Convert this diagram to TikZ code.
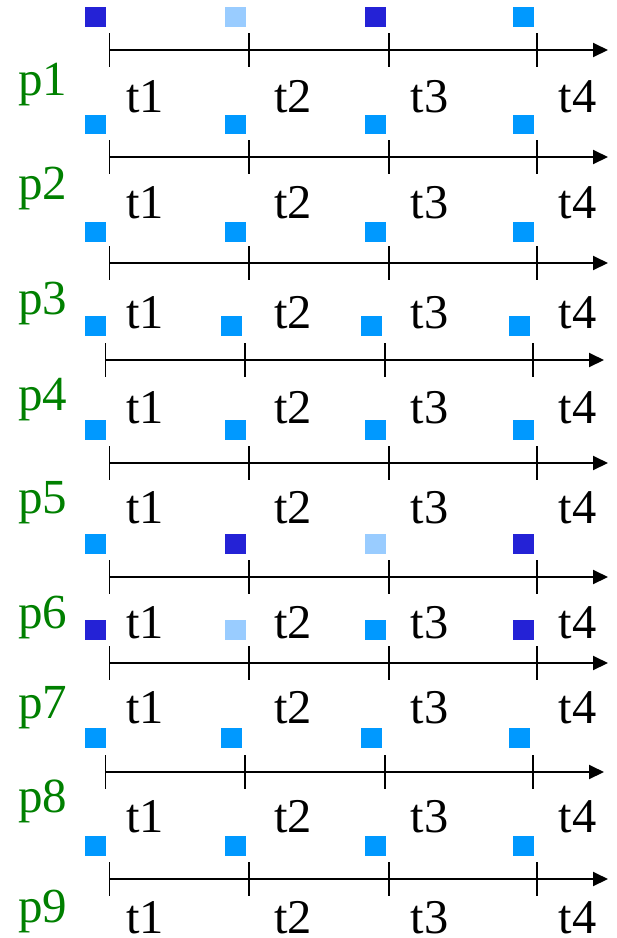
\documentclass[tikz,border=0pt]{standalone}
\usepackage{fontspec}
\setmainfont{Liberation Serif}
\usetikzlibrary{arrows.meta}
\definecolor{cD}{RGB}{36,34,214}
\definecolor{cM}{RGB}{0,153,255}
\definecolor{cL}{RGB}{153,204,255}
\definecolor{pgreen}{RGB}{0,128,0}
\begin{document}
\begin{tikzpicture}[x=1pt,y=-1pt,
  sq/.style={minimum width=21pt,minimum height=19.5pt,inner sep=0pt,outer sep=0pt,draw=none},
  tlab/.style={anchor=base,inner sep=0pt,font=\fontsize{48.5}{48.5}\selectfont},
  plab/.style={anchor=base,inner sep=0pt,text=pgreen,font=\fontsize{49}{49}\selectfont},
  axisline/.style={line width=2pt,-{Triangle[length=15pt,width=14pt]}},
  tickline/.style={line width=1.4pt}]
\useasboundingbox (0,0) rectangle (617,938);
\foreach \r/\ay/\sh/\sy/\ca/\cb/\cc/\cd/\tb/\pb in {
  1/50/0/17/D/L/D/M/112/95,
  2/157/0/124.5/M/M/M/M/218/199,
  3/263/0/232/M/M/M/M/328/314,
  4/360/-4/326/M/M/M/M/423/410,
  5/463/0/430/M/M/M/M/523/513,
  6/577/0/544/M/D/L/D/638/628,
  7/663/0/630/D/L/M/D/723/718,
  8/772/-4/738/M/M/M/M/832/812,
  9/879/0/846/M/M/M/M/933/922}{
  \node[sq,fill=c\ca] (s\r-1) at (95,\sy) {};
  \node[sq,fill=c\cb] (s\r-2) at ({235.5+\sh},\sy) {};
  \node[sq,fill=c\cc] (s\r-3) at ({375.5+\sh},\sy) {};
  \node[sq,fill=c\cd] (s\r-4) at ({523+\sh},\sy) {};
  \coordinate (a\r-s) at ({109.5+\sh},\ay);
  \coordinate (a\r-e) at ({608+\sh},\ay);
  \draw[axisline] (a\r-s) -- (a\r-e);
  \foreach \k/\x in {1/109.5,2/249,3/389,4/537}{
    \coordinate (k\r-\k-a) at ({\x+\sh},{\ay-17});
    \coordinate (k\r-\k-b) at ({\x+\sh},{\ay+17});
    \draw[tickline] (k\r-\k-a) -- (k\r-\k-b);
  }
  \node[tlab] (t\r-1) at (145,\tb) {t1};
  \node[tlab] (t\r-2) at (293,\tb) {t2};
  \node[tlab] (t\r-3) at (429.5,\tb) {t3};
  \node[tlab] (t\r-4) at (577.5,\tb) {t4};
  \node[plab] (p\r) at (43,\pb) {p\r};
}
\end{tikzpicture}
\end{document}
